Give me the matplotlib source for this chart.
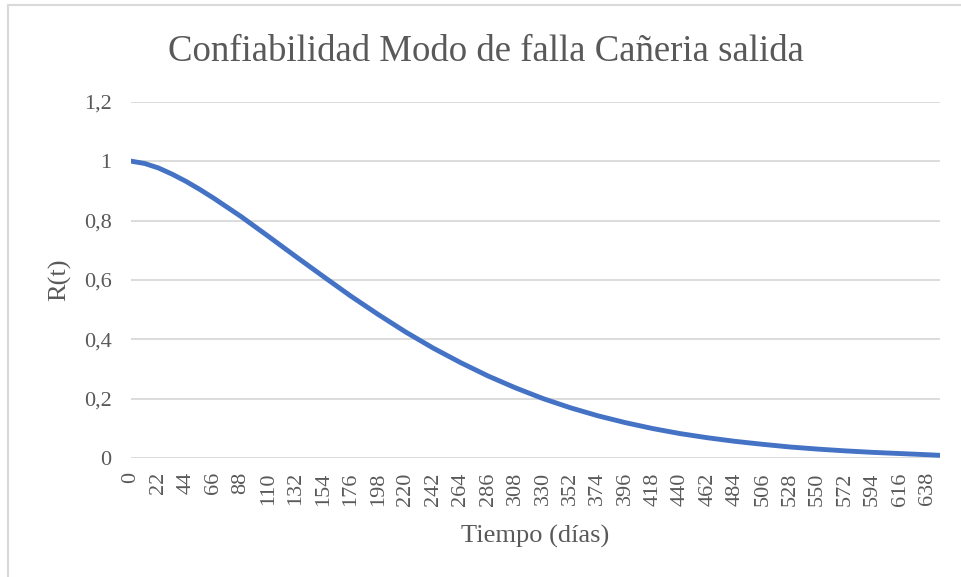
import matplotlib
matplotlib.use('Agg')
import matplotlib.pyplot as plt
from matplotlib.lines import Line2D

# Datos (tiempo en dias, confiabilidad R(t))
tiempo = [0, 11, 22, 33, 44, 55, 66, 88, 110, 132, 154, 176, 198, 220, 242, 264,
          286, 308, 330, 352, 374, 396, 418, 440, 462, 484, 506, 528, 550, 572,
          594, 616, 638, 648]
confiabilidad = [1.000, 0.992, 0.977, 0.956, 0.932, 0.905, 0.876, 0.814, 0.747,
                 0.679, 0.612, 0.546, 0.484, 0.425, 0.371, 0.322, 0.277, 0.237,
                 0.201, 0.170, 0.143, 0.120, 0.100, 0.083, 0.069, 0.057, 0.047,
                 0.038, 0.031, 0.025, 0.020, 0.016, 0.012, 0.010]
etiquetas_x = list(range(0, 639, 22))
etiquetas_y = [0, 0.2, 0.4, 0.6, 0.8, 1, 1.2]

gris = '#595959'
plt.rcParams['font.family'] = ['Liberation Serif', 'DejaVu Serif']

fig = plt.figure(figsize=(9.62, 5.77), dpi=100)
ax = fig.add_axes([131 / 962, 1 - 458.3 / 577, (940 - 131) / 962, (458.3 - 101.7) / 577])

ax.plot(tiempo, confiabilidad, color='#4472C4', linewidth=3.5, solid_capstyle='round')

ax.set_xlim(0, 648)
ax.set_ylim(0, 1.2)
ax.set_xticks(etiquetas_x)
ax.set_xticklabels([str(v) for v in etiquetas_x], rotation=90)
ax.set_yticks(etiquetas_y)
ax.set_yticklabels([('%g' % v).replace('.', ',') for v in etiquetas_y])
ax.tick_params(axis='both', length=0, labelsize=16, colors=gris)
ax.tick_params(axis='y', pad=14)
ax.tick_params(axis='x', pad=10)

ax.grid(axis='y', color='#d9d9d9', linewidth=1.3)
ax.set_axisbelow(True)
for s in ax.spines.values():
    s.set_visible(False)

ax.set_xlabel('Tiempo (días)', fontsize=19, color=gris, labelpad=14)
ax.set_ylabel('R(t)', fontsize=19, color=gris, labelpad=9)
fig.text(486 / 962, 1 - 52 / 577, 'Confiabilidad Modo de falla Cañeria salida',
         fontsize=26.5, color=gris, ha='center', va='center')

# borde del area del grafico (solo visible arriba e izquierda)
fig.add_artist(Line2D([8 / 962, 8 / 962], [0, 1 - 5 / 577], transform=fig.transFigure,
                      color='#d9d9d9', linewidth=1.5))
fig.add_artist(Line2D([8 / 962, 1], [1 - 5 / 577, 1 - 5 / 577], transform=fig.transFigure,
                      color='#d9d9d9', linewidth=1.5))

fig.savefig('out.png', dpi=100)
